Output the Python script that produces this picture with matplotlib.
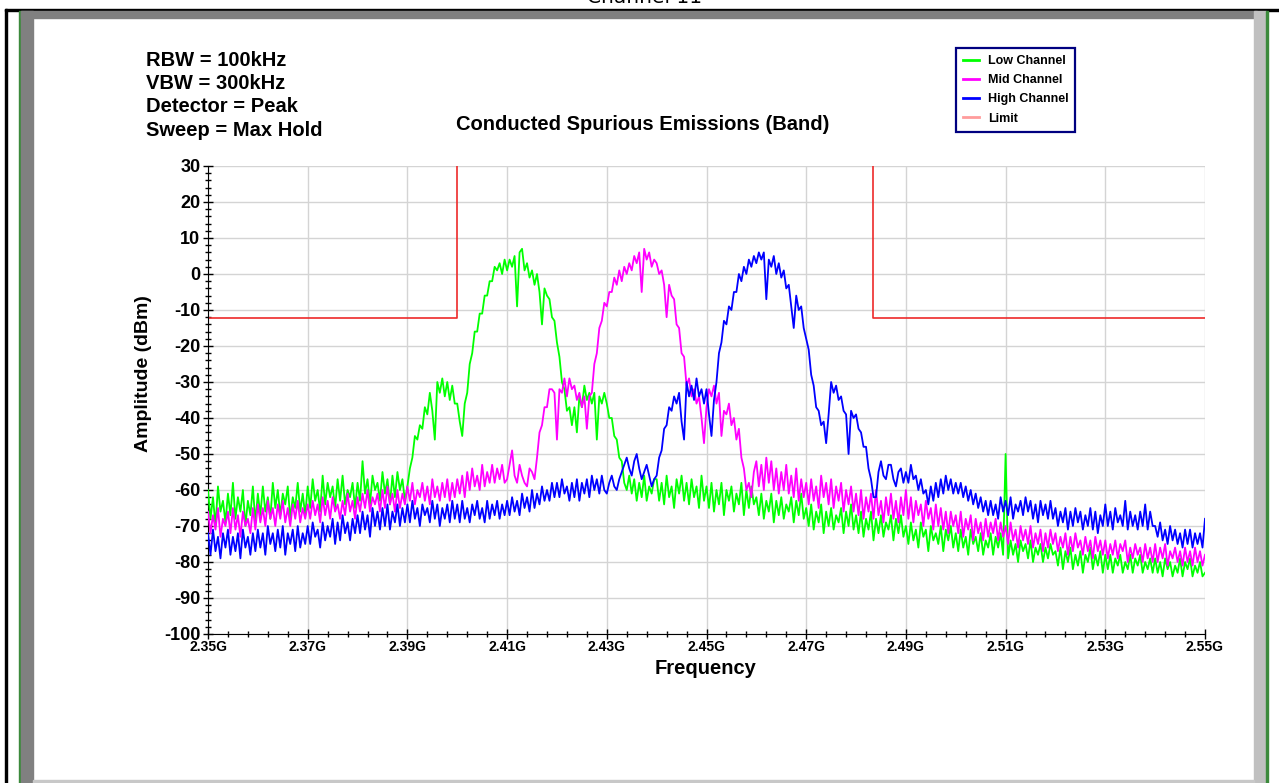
"""
Conducted spurious emissions (band) plot, low / mid / high channel max hold traces
"""
import numpy as np
import matplotlib.pyplot as plt
from matplotlib.lines import Line2D
from matplotlib.patches import Rectangle
from matplotlib.ticker import MultipleLocator, FuncFormatter

plt.rcParams['font.family'] = ['Liberation Sans', 'DejaVu Sans']
plt.rcParams['axes.unicode_minus'] = False

# sweep frequencies in MHz, one reading every 0.5 MHz
freq_mhz = np.arange(2350, 2550.5, 0.5)

# max hold readings in dBm (one row = 10 MHz)
low_dbm = [
    -60, -68, -62, -70, -59, -66, -63, -69, -61, -67, -58, -68, -62, -66, -60, -70, -63, -67, -59, -69,
    -61, -67, -59, -66, -62, -68, -58, -65, -60, -67, -61, -64, -59, -68, -62, -65, -58, -66, -61, -67,
    -59, -65, -57, -63, -60, -66, -56, -64, -58, -62, -59, -65, -57, -63, -56, -64, -60, -62, -58, -65,
    -58, -63, -52, -61, -57, -64, -56, -60, -58, -63, -55, -61, -57, -64, -56, -62, -55, -60, -57, -63,
    -59, -54, -51, -45, -46, -42, -43, -37, -39, -33, -38, -46, -30, -33, -29, -34, -30, -35, -31, -36,
    -36, -41, -45, -36, -33, -25, -22, -16, -16, -11, -11, -6, -6, -2, -2, 2, 1, 3, 0, 4,
    1, 4, 2, 5, -9, 6, 7, 1, 3, -1, 1, -3, 0, -5, -14, -4, -6, -7, -12, -13,
    -19, -23, -30, -32, -38, -37, -42, -37, -44, -34, -37, -31, -35, -33, -36, -33, -46, -34, -36, -33,
    -36, -40, -40, -45, -46, -51, -52, -58, -60, -56, -61, -57, -63, -58, -62, -56, -63, -59, -61, -57,
    -57, -63, -58, -64, -56, -62, -59, -65, -57, -61, -56, -63, -58, -64, -57, -62, -59, -65, -56, -63,
    -59, -65, -58, -66, -60, -64, -58, -67, -60, -63, -59, -66, -61, -64, -58, -67, -60, -65, -59, -64,
    -62, -67, -61, -68, -63, -66, -61, -69, -63, -67, -62, -68, -64, -66, -62, -69, -63, -67, -61, -68,
    -65, -70, -64, -71, -66, -69, -64, -72, -66, -70, -65, -71, -67, -69, -65, -72, -66, -70, -64, -71,
    -67, -72, -66, -73, -68, -71, -66, -74, -68, -72, -67, -73, -69, -71, -67, -74, -68, -72, -67, -73,
    -70, -75, -69, -74, -71, -76, -69, -73, -71, -77, -70, -74, -72, -75, -70, -77, -71, -74, -70, -76,
    -72, -77, -71, -76, -73, -78, -71, -75, -73, -77, -72, -78, -74, -76, -72, -78, -73, -76, -72, -78,
    -50, -79, -74, -78, -75, -80, -74, -77, -75, -79, -74, -80, -76, -78, -75, -80, -76, -79, -75, -78,
    -77, -81, -76, -82, -77, -80, -76, -82, -78, -81, -77, -83, -78, -80, -76, -82, -78, -81, -77, -83,
    -78, -82, -78, -83, -79, -81, -78, -83, -80, -82, -78, -83, -79, -81, -78, -83, -80, -82, -79, -83,
    -79, -83, -80, -84, -79, -82, -80, -84, -81, -83, -79, -84, -80, -82, -79, -84, -81, -83, -80, -84,
    -83,
]

mid_dbm = [
    -66, -72, -67, -71, -65, -73, -68, -70, -66, -72, -65, -71, -67, -73, -66, -70, -68, -72, -65, -71,
    -64, -69, -65, -70, -63, -68, -65, -70, -64, -68, -63, -69, -65, -70, -64, -68, -63, -69, -65, -68,
    -64, -68, -63, -67, -64, -69, -62, -67, -63, -68, -62, -66, -64, -68, -63, -67, -61, -66, -63, -68,
    -62, -66, -61, -65, -60, -66, -62, -64, -61, -66, -60, -65, -59, -64, -61, -66, -60, -65, -61, -64,
    -59, -63, -58, -64, -60, -62, -58, -63, -59, -64, -57, -62, -59, -63, -58, -62, -57, -63, -58, -62,
    -57, -61, -56, -62, -55, -60, -54, -59, -56, -60, -53, -59, -55, -58, -53, -58, -54, -57, -53, -58,
    -57, -53, -49, -56, -58, -53, -56, -58, -59, -54, -55, -57, -51, -44, -42, -37, -37, -32, -32, -33,
    -46, -32, -33, -29, -34, -29, -32, -31, -35, -33, -37, -34, -43, -34, -33, -25, -22, -15, -13, -8,
    -9, -5, -5, -1, -3, 1, -2, 2, 0, 3, 1, 5, 3, 6, -5, 7, 4, 6, 2, 4,
    3, 0, 1, -3, -12, -3, -6, -7, -14, -15, -22, -23, -31, -29, -34, -32, -36, -34, -40, -47,
    -37, -32, -34, -31, -36, -33, -45, -38, -39, -36, -42, -40, -46, -43, -51, -54, -60, -58, -62, -55,
    -52, -59, -53, -60, -51, -58, -52, -60, -54, -61, -55, -60, -53, -61, -56, -62, -54, -63, -57, -62,
    -58, -64, -57, -63, -59, -65, -56, -62, -58, -64, -57, -65, -59, -63, -58, -66, -60, -64, -59, -66,
    -61, -67, -60, -68, -62, -66, -61, -68, -60, -67, -63, -69, -62, -67, -61, -68, -63, -69, -62, -67,
    -60, -68, -62, -69, -63, -67, -64, -70, -63, -68, -65, -71, -64, -70, -65, -71, -66, -72, -66, -70,
    -67, -72, -66, -73, -68, -71, -67, -74, -68, -72, -69, -74, -68, -73, -69, -72, -68, -74, -69, -73,
    -70, -75, -69, -74, -71, -76, -70, -74, -71, -75, -70, -76, -72, -75, -71, -77, -72, -76, -71, -75,
    -72, -77, -73, -76, -72, -78, -73, -77, -72, -76, -74, -78, -73, -77, -74, -79, -73, -77, -74, -78,
    -74, -79, -75, -78, -74, -79, -75, -77, -74, -80, -76, -79, -75, -78, -76, -80, -75, -79, -76, -80,
    -75, -80, -76, -79, -75, -81, -77, -79, -76, -80, -77, -81, -76, -80, -77, -81, -76, -80, -77, -81,
    -78,
]

high_dbm = [
    -72, -78, -71, -77, -73, -79, -72, -76, -71, -78, -73, -77, -72, -79, -71, -76, -73, -78, -72, -77,
    -71, -76, -72, -78, -70, -75, -72, -77, -71, -76, -70, -78, -72, -75, -71, -77, -70, -76, -72, -75,
    -70, -75, -69, -73, -71, -76, -69, -74, -70, -73, -68, -75, -69, -74, -67, -72, -69, -74, -68, -72,
    -67, -72, -66, -71, -67, -73, -65, -70, -66, -71, -65, -70, -64, -71, -66, -69, -64, -70, -65, -69,
    -64, -69, -63, -68, -65, -70, -64, -67, -65, -69, -63, -68, -64, -70, -65, -68, -64, -69, -63, -68,
    -64, -69, -63, -68, -65, -69, -64, -67, -63, -68, -65, -69, -63, -68, -64, -67, -63, -68, -64, -67,
    -63, -67, -62, -66, -63, -67, -61, -65, -62, -66, -60, -65, -61, -64, -59, -63, -60, -63, -58, -62,
    -58, -62, -57, -61, -59, -63, -58, -62, -57, -63, -58, -61, -57, -62, -56, -60, -57, -61, -56, -60,
    -61, -58, -56, -59, -60, -57, -55, -53, -51, -54, -56, -52, -50, -54, -57, -55, -53, -56, -59, -57,
    -56, -51, -49, -43, -42, -37, -38, -34, -36, -33, -41, -46, -30, -34, -31, -35, -29, -34, -32, -36,
    -32, -39, -45, -35, -30, -22, -19, -13, -14, -9, -10, -5, -5, 0, -2, 2, 0, 4, 2, 5,
    3, 6, 4, 6, -7, 4, 2, 5, 0, 3, -1, 1, -4, -3, -9, -15, -6, -10, -9, -15,
    -18, -21, -28, -31, -37, -38, -42, -41, -47, -39, -30, -33, -31, -35, -34, -38, -39, -50, -38, -40,
    -39, -43, -44, -48, -48, -54, -57, -62, -62, -55, -52, -56, -57, -53, -53, -57, -59, -55, -54, -58,
    -55, -58, -53, -57, -56, -60, -57, -61, -60, -64, -59, -63, -58, -62, -57, -61, -56, -60, -57, -61,
    -58, -61, -58, -62, -59, -63, -60, -64, -61, -65, -62, -66, -63, -67, -63, -67, -64, -68, -62, -66,
    -63, -67, -62, -68, -64, -66, -63, -67, -62, -66, -63, -68, -64, -69, -63, -67, -64, -68, -63, -68,
    -65, -70, -66, -69, -65, -71, -66, -70, -65, -69, -66, -71, -67, -70, -65, -71, -66, -72, -67, -70,
    -64, -70, -66, -71, -65, -69, -67, -70, -63, -71, -66, -70, -67, -71, -66, -70, -64, -71, -66, -70,
    -70, -73, -69, -74, -71, -75, -70, -74, -71, -75, -72, -76, -71, -75, -71, -76, -72, -75, -72, -76,
    -68,
]

# limit mask (NaN splits the two out-of-band pieces)
limit_mhz = [2350, 2400, 2400, np.nan, 2483.5, 2483.5, 2550]
limit_dbm = [-12.2, -12.2, 30, np.nan, 30, -12.2, -12.2]

setup_lines = ["RBW = 100kHz", "VBW = 300kHz", "Detector = Peak", "Sweep = Max Hold"]

W, H = 1279, 783
fig = plt.figure(figsize=(W / 100, H / 100), dpi=100)

# page / window frame around the chart
def fig_rect(x0, y0, x1, y1, color):
    fig.patches.append(Rectangle((x0 / W, 1 - y1 / H), (x1 - x0) / W, (y1 - y0) / H,
                                 transform=fig.transFigure, color=color, zorder=0))

fig_rect(5, 9, W, 11, "black")
fig_rect(5, 9, 7, H, "black")
fig_rect(19, 11, 21, H, "#3c8a3c")
fig_rect(21, 11, 1257, 18, "#808080")
fig_rect(21, 11, 33, H, "#808080")
fig_rect(1254, 11, 1266, H, "#c0c0c0")
fig_rect(1266, 11, 1268, H, "#3c8a3c")
fig_rect(33, 780, 1254, H, "#c8c8c8")
fig.text(645 / W, 1 - 3 / H, "Channel 11", ha="center", va="baseline",
         fontsize=14.5, family=["DejaVu Sans"])

ax = fig.add_axes([208 / W, 1 - 634 / H, (1205 - 208) / W, (634 - 166) / H])

ax.plot(limit_mhz, limit_dbm, color="#ee2a2a", lw=1.2, zorder=2)
ax.plot(freq_mhz, low_dbm, color="#00ff00", lw=1.3, zorder=3)
ax.plot(freq_mhz, mid_dbm, color="#ff00ff", lw=1.3, zorder=4)
ax.plot(freq_mhz, high_dbm, color="#0000ff", lw=1.3, zorder=5)

ax.set_xlim(2350, 2550)
ax.set_ylim(-100, 30)
ax.xaxis.set_major_locator(MultipleLocator(20, offset=10))
ax.xaxis.set_minor_locator(MultipleLocator(4, offset=2))
ax.yaxis.set_major_locator(MultipleLocator(10))
ax.yaxis.set_minor_locator(MultipleLocator(2))
ax.xaxis.set_major_formatter(FuncFormatter(lambda v, p: "%.2fG" % (v / 1000)))
ax.grid(True, which="major", color="#d4d4d4", lw=1)
ax.set_axisbelow(True)
for side in ["top", "right"]:
    ax.spines[side].set_visible(False)
ax.tick_params(which="major", direction="inout", length=7, width=1)
ax.tick_params(which="minor", direction="inout", length=4, width=1)
ax.tick_params(axis="y", labelsize=13, pad=2)
ax.tick_params(axis="x", labelsize=10, pad=1)
for lbl in ax.get_xticklabels() + ax.get_yticklabels():
    lbl.set_fontweight("bold")

fig.text(706 / W, 1 - 669 / H, "Frequency", ha="center", va="center",
         fontsize=14.5, fontweight="bold")
fig.text(143 / W, 1 - 374 / H, "Amplitude (dBm)", ha="center", va="center",
         rotation=90, fontsize=14, fontweight="bold")
fig.text(643 / W, 1 - 124 / H, "Conducted Spurious Emissions (Band)", ha="center",
         va="center", fontsize=14.5, fontweight="bold")
for i, s in enumerate(setup_lines):
    fig.text(146 / W, 1 - (60 + i * 23.4) / H, s, ha="left", va="center",
             fontsize=14.5, fontweight="bold")

handles = [Line2D([], [], color="#00ff00", lw=2),
           Line2D([], [], color="#ff00ff", lw=2),
           Line2D([], [], color="#0000ff", lw=2),
           Line2D([], [], color="#ff9c9c", lw=2)]
leg = fig.legend(handles, ["Low Channel", "Mid Channel", "High Channel", "Limit"],
                 loc="upper left", bbox_to_anchor=(956 / W, 1 - 48 / H),
                 bbox_transform=fig.transFigure, borderaxespad=0,
                 prop={"weight": "bold", "size": 9}, handlelength=1.3,
                 handletextpad=0.7, labelspacing=0.58, borderpad=0.55,
                 fancybox=False, framealpha=1, edgecolor="#000080")
leg.get_frame().set_linewidth(1.6)

fig.savefig("out.png", dpi=100)
